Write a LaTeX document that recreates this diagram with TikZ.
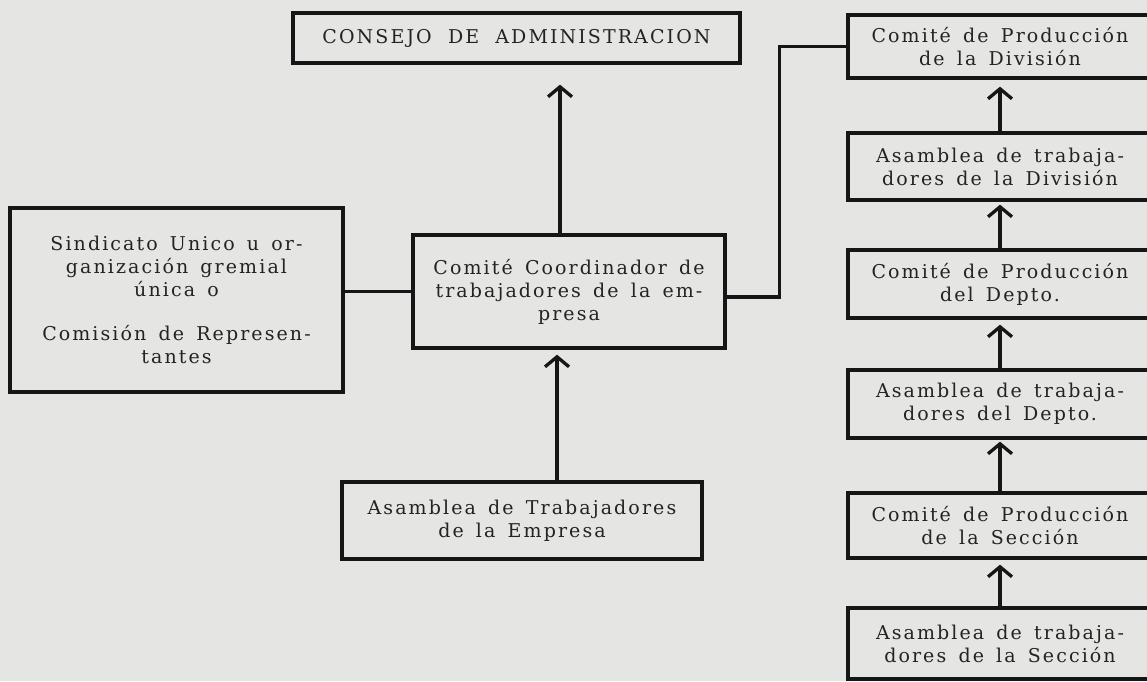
\documentclass[tikz,border=0pt]{standalone}
\usepackage{fontspec}
\usetikzlibrary{arrows.meta}
\newfontfamily\ty{DejaVu Serif}[LetterSpace=11, WordSpace=1.5]
\definecolor{bg}{RGB}{229,229,227}
\definecolor{ink}{RGB}{22,22,22}
\definecolor{txt}{RGB}{35,35,35}
\begin{document}
\begin{tikzpicture}[x=1pt,y=-1pt,
  box/.style={draw=ink, line width=3.3pt, inner sep=0pt, font=\ty\fontsize{19}{23}\selectfont, text=txt, align=center},
  rbox/.style={box, minimum width=304},
  conn/.style={draw=ink, line width=3.3pt},
  arr/.style={conn, -{Straight Barb[length=10pt,width=24pt]}}]
\fill[bg] (0,0) rectangle (1147,681);
\useasboundingbox (0,0) rectangle (1147,681);
\clip (0,0) rectangle (1147,681);

\node[box, minimum width=447, minimum height=50] (cons) at (516.5,38) {CONSEJO\hspace{4pt} DE\hspace{4pt} ADMINISTRACION};
\node[box, minimum width=333, minimum height=184] (sind) at (176.5,300) {Sindicato Unico u or-\\ganización gremial\\única o\\[21pt]Comisión de Represen-\\tantes};
\node[box, minimum width=312, minimum height=113] (coord) at (569,291.5) {Comité Coordinador de\\trabajadores de la em-\\presa};
\node[box, minimum width=360, minimum height=77] (asem) at (522,520.5) {Asamblea de Trabajadores\\de la Empresa};

\node[rbox, minimum height=63] (r1) at (1000,46.5) {Comité de Producción\\de la División};
\node[rbox, minimum height=67] (r2) at (1000,166.5) {Asamblea de trabaja-\\dores de la División};
\node[rbox, minimum height=68] (r3) at (1000,284) {Comité de Producción\\del Depto.};
\node[rbox, minimum height=68] (r4) at (1000,404) {Asamblea de trabaja-\\dores del Depto.};
\node[rbox, minimum height=65] (r5) at (1000,525.5) {Comité de Producción\\de la Sección};
\node[rbox, minimum height=71] (r6) at (1000,643.5) {Asamblea de trabaja-\\dores de la Sección};

\draw[conn] (sind.east |- coord.west) -- (coord.west);
\draw[arr, shorten >=20pt] ([xshift=-9pt]coord.north) -- ([xshift=-9pt]coord.north |- cons.south);
\draw[arr, shorten >=5pt] ([xshift=35pt]asem.north) -- ([xshift=35pt]asem.north |- coord.south);
\draw[conn] ([yshift=-5.5pt]coord.east) -- ++(53,0) |- (r1.west);

\draw[arr, shorten >=7pt] (r2.north) -- (r1.south);
\draw[arr, shorten >=3pt] (r3.north) -- (r2.south);
\draw[arr, shorten >=5pt] (r4.north) -- (r3.south);
\draw[arr, shorten >=2pt] (r5.north) -- (r4.south);
\draw[arr, shorten >=5pt] (r6.north) -- (r5.south);
\end{tikzpicture}
\end{document}
